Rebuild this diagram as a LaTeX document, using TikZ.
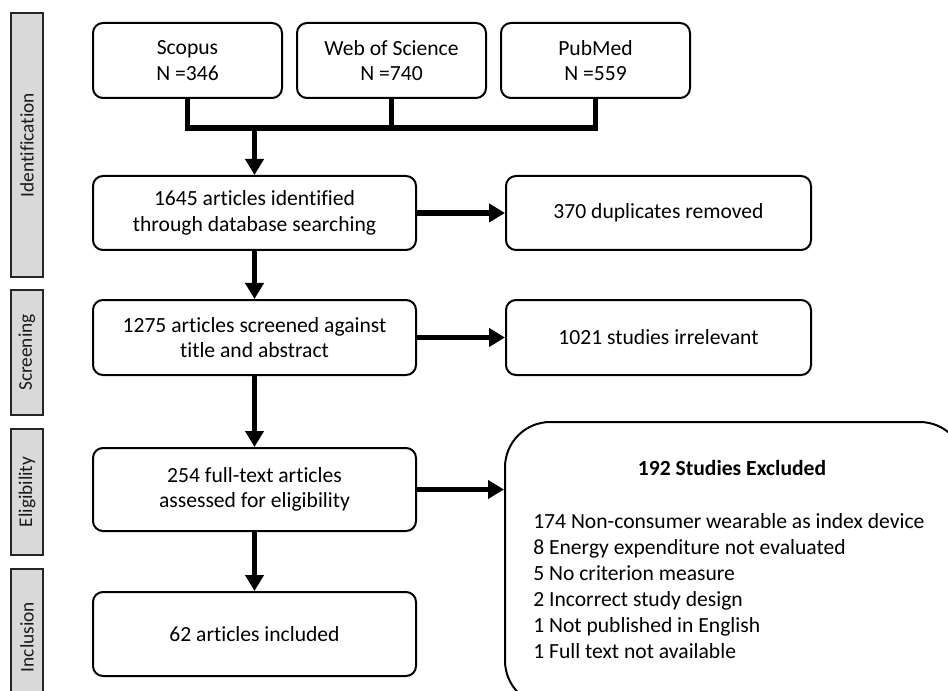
\documentclass[tikz,border=0pt]{standalone}
\usepackage{fontspec}
\setmainfont{Carlito}[Ligatures=NoCommon]
\usetikzlibrary{arrows.meta}
\begin{document}
\begin{tikzpicture}[x=0.75pt,y=-0.75pt,
  box/.style={draw=black, line width=1.5pt, rounded corners=7.5pt, align=center, inner sep=0pt,
    font=\fontsize{16.2}{19}\selectfont, text=black},
  phase/.style={draw=black!85, line width=1.3pt, fill=black!15, rotate=90, inner sep=0pt,
    font=\fontsize{14.5}{17}\selectfont, text=black!90},
  conn/.style={line width=4pt, line join=miter},
  arr/.style={line width=4pt, -{Triangle[length=12pt,width=13.5pt]}},
  txt/.style={inner sep=0pt, font=\fontsize{16.2}{19.5}\selectfont, text=black}]
\clip (0,0) rectangle (948,691);
% phase bars
\node[phase, minimum width={264*0.75pt}, minimum height={32*0.75pt}] (barI) at (27,145) {Identification};
\node[phase, minimum width={125*0.75pt}, minimum height={32*0.75pt}] (barS) at (27,352.5) {Screening};
\node[phase, minimum width={126*0.75pt}, minimum height={32*0.75pt}] (barE) at (27,492) {Eligibility};
\node[phase, minimum width={136*0.75pt}, minimum height={32*0.75pt}] (barN) at (27,637) {Inclusion};
% database boxes
\node[box, minimum width={189*0.75pt}, minimum height={75*0.75pt}] (scopus) at (187.5,60.5) {Scopus\\N =346};
\node[box, minimum width={189*0.75pt}, minimum height={75*0.75pt}] (wos) at (391.5,60.5) {Web of Science\\N =740};
\node[box, minimum width={189*0.75pt}, minimum height={75*0.75pt}] (pubmed) at (595.5,60.5) {PubMed\\N =559};
% main column
\node[box, minimum width={323*0.75pt}, minimum height={74*0.75pt}] (ident) at (254.5,213) {1645 articles identified\\through database searching};
\node[box, minimum width={323*0.75pt}, minimum height={75*0.75pt}] (screen) at (254.5,337.5) {1275 articles screened against\\title and abstract};
\node[box, minimum width={323*0.75pt}, minimum height={83*0.75pt}] (elig) at (254.5,489.5) {254 full-text articles\\assessed for eligibility};
\node[box, minimum width={323*0.75pt}, minimum height={84*0.75pt}] (incl) at (254.5,634) {62 articles included};
% right column
\node[box, minimum width={305*0.75pt}, minimum height={74*0.75pt}] (dup) at (658.5,213) {370 duplicates removed};
\node[box, minimum width={305*0.75pt}, minimum height={75*0.75pt}] (irr) at (658.5,337.5) {1021 studies irrelevant};
\node[box, rounded corners=34pt, minimum width={460*0.75pt}, minimum height={284*0.75pt}] (excl) at (735,564) {};
\node[txt, font=\fontsize{16.2}{19.5}\selectfont\bfseries] (excltitle) at (732,468) {192 Studies Excluded};
\node[txt, anchor=west, align=left] (excllist) at (533,586) {174 Non-consumer wearable as index device\\8 Energy expenditure not evaluated\\5 No criterion measure\\2 Incorrect study design\\1 Not published in English\\1 Full text not available};
% connectors
\coordinate (jI) at (254.5,128);
\draw[conn] (scopus.south) |- (jI) -| (pubmed.south);
\draw[conn] (wos.south) -- (wos.south |- jI);
\draw[arr] (jI) -- (ident.north);
\draw[arr] (ident) -- (screen);
\draw[arr] (screen) -- (elig);
\draw[arr] (elig) -- (incl);
\draw[arr] (ident.east) -- (dup.west);
\draw[arr] (screen.east) -- (irr.west);
\draw[arr] (elig.east) -- (elig.east -| excl.west);
\end{tikzpicture}
\end{document}
